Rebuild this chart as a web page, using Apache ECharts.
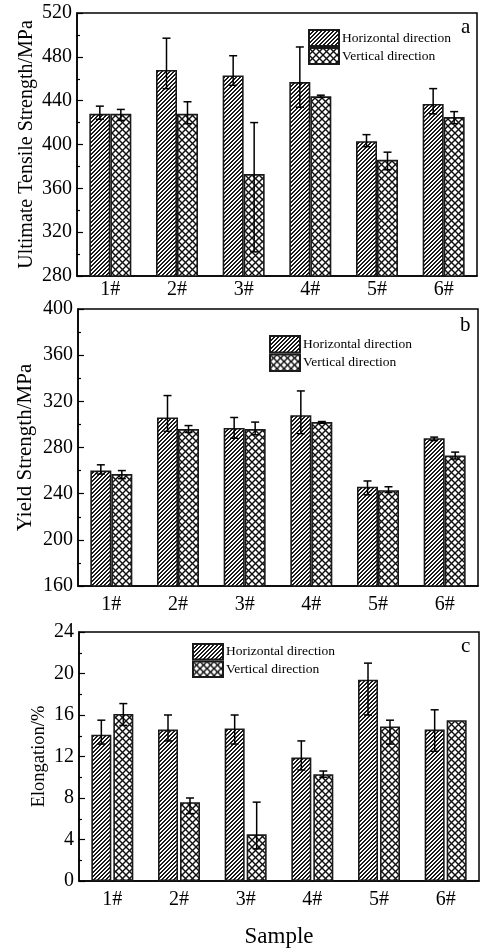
<!DOCTYPE html>
<html>
<head>
<meta charset="utf-8">
<title>Tensile properties</title>
<script src="https://cdn.jsdelivr.net/npm/echarts@6/dist/echarts.min.js"></script>
<style>
  html, body { margin: 0; padding: 0; background: #fff; }
  #main { width: 481px; height: 949px; }
</style>
</head>
<body>
<div id="main"></div>
<script>
  // 样品编号
  var samples = ['1#', '2#', '3#', '4#', '5#', '6#'];
  var seriesNames = ['Horizontal direction', 'Vertical direction'];

  // a: Ultimate Tensile Strength/MPa  (bar value, error bar low / high)
  var utsH     = [428, 468, 463, 457, 403, 437];
  var utsHLow  = [423, 451, 454, 434, 398, 428];
  var utsHHigh = [435, 497, 481, 489, 409, 451];
  var utsV     = [428, 428, 373, 444, 386, 425];
  var utsVLow  = [422, 419, 302, 443, 377, 419];
  var utsVHigh = [432, 439, 420, 445, 393, 430];

  // b: Yield Strength/MPa
  var ysH     = [260, 306, 297, 308, 246, 288];
  var ysHLow  = [257, 294, 288, 292, 239, 286];
  var ysHHigh = [265, 325, 306, 329, 251, 289];
  var ysV     = [257, 296, 296, 302, 243, 273];
  var ysVLow  = [253, 293, 291, 301, 241, 270];
  var ysVHigh = [260, 299, 302, 302.5, 246, 276];

  // c: Elongation/%   (6# vertical has no error bar)
  var elH     = [14.1, 14.6, 14.7, 11.9, 19.4, 14.6];
  var elHLow  = [13.2, 13.5, 13.2, 10.7, 16.0, 12.5];
  var elHHigh = [15.5, 16.0, 16.0, 13.5, 21.0, 16.5];
  var elV     = [16.1, 7.6, 4.5, 10.3, 14.9, 15.5];
  var elVLow  = [15.0, 6.5, 3.1, 10.0, 13.2, null];
  var elVHigh = [17.1, 8.0, 7.6, 10.6, 15.5, null];

  var font = 'Liberation Serif';

  // 斜线填充
  function hatchCanvas() {
    var n = 4, c = document.createElement('canvas');
    c.width = n; c.height = n;
    var ctx = c.getContext('2d');
    ctx.fillStyle = '#fff';
    ctx.fillRect(0, 0, n, n);
    ctx.fillStyle = '#1a1a1a';
    for (var x = 0; x < n; x++) {
      for (var y = 0; y < n; y++) {
        if ((x + y) % n < 2) ctx.fillRect(x, y, 1, 1);
      }
    }
    return c;
  }

  // 网格填充
  function crossCanvas() {
    var n = 7, c = document.createElement('canvas');
    c.width = n; c.height = n;
    var ctx = c.getContext('2d');
    ctx.fillStyle = '#fff';
    ctx.fillRect(0, 0, n, n);
    ctx.strokeStyle = '#111';
    ctx.lineWidth = 1.4;
    for (var k = -1; k <= 1; k++) {
      ctx.beginPath(); ctx.moveTo(k * n, 0); ctx.lineTo(k * n + n, n); ctx.stroke();
      ctx.beginPath(); ctx.moveTo(k * n, n); ctx.lineTo(k * n + n, 0); ctx.stroke();
    }
    return c;
  }

  var hatchFill = { image: hatchCanvas(), repeat: 'repeat' };
  var crossFill = { image: crossCanvas(), repeat: 'repeat' };

  function errorItem(shift) {
    return function (params, api) {
      if (isNaN(api.value(1))) return null;
      var i = api.value(0);
      var lo = api.coord([i, api.value(1)]);
      var hi = api.coord([i, api.value(2)]);
      var x = lo[0] + shift, cap = 4;
      var st = { stroke: '#000', lineWidth: 1.5 };
      return {
        type: 'group',
        children: [
          { type: 'line', shape: { x1: x, y1: lo[1], x2: x, y2: hi[1] }, style: st },
          { type: 'line', shape: { x1: x - cap, y1: hi[1], x2: x + cap, y2: hi[1] }, style: st },
          { type: 'line', shape: { x1: x - cap, y1: lo[1], x2: x + cap, y2: lo[1] }, style: st }
        ]
      };
    };
  }

  function pairs(lo, hi) {
    return samples.map(function (s, i) { return [i, lo[i], hi[i]]; });
  }

  function panelSeries(idx, h, hLo, hHi, v, vLo, vHi, barW, gap) {
    var off = barW / 2 + gap / 2;
    var base = { xAxisIndex: idx, yAxisIndex: idx, animation: false };
    return [
      Object.assign({
        name: seriesNames[0], type: 'bar', data: h, barWidth: barW, barGap: (gap / barW * 100) + '%',
        itemStyle: { color: hatchFill, borderColor: '#1a1a1a', borderWidth: 1.6 }
      }, base),
      Object.assign({
        name: seriesNames[1], type: 'bar', data: v, barWidth: barW,
        itemStyle: { color: crossFill, borderColor: '#1a1a1a', borderWidth: 1.6 }
      }, base),
      Object.assign({
        type: 'custom', renderItem: errorItem(-off), data: pairs(hLo, hHi), z: 5,
        encode: { x: 0, y: [1, 2] }
      }, base),
      Object.assign({
        type: 'custom', renderItem: errorItem(off), data: pairs(vLo, vHi), z: 5,
        encode: { x: 0, y: [1, 2] }
      }, base)
    ];
  }

  function xAxisOf(idx, margin, name) {
    return {
      type: 'category', gridIndex: idx, data: samples,
      axisLine: { lineStyle: { color: '#000', width: 1.5 } },
      axisTick: { inside: true, length: 5, lineStyle: { color: '#000', width: 1.2 } },
      axisLabel: { color: '#000', fontFamily: font, fontSize: 20, margin: margin },
      name: name || '', nameLocation: 'middle', nameGap: 44,
      nameTextStyle: { color: '#000', fontFamily: font, fontSize: 23 },
      splitLine: { show: false }
    };
  }

  function yAxisOf(idx, min, max, step, name, gap, nameSize) {
    return {
      type: 'value', gridIndex: idx, min: min, max: max, interval: step,
      axisLine: { show: true, lineStyle: { color: '#000', width: 1.5 } },
      axisTick: { show: true, inside: true, length: 6, lineStyle: { color: '#000', width: 1.2 } },
      minorTick: { show: true, splitNumber: 2, length: 3, lineStyle: { color: '#000', width: 1.2 } },
      axisLabel: { color: '#000', fontFamily: font, fontSize: 20, margin: 5 },
      splitLine: { show: false },
      name: name, nameLocation: 'middle', nameGap: gap, nameMoveOverlap: false,
      nameTextStyle: { color: '#000', fontFamily: font, fontSize: nameSize }
    };
  }

  function legendOf(left, top, h) {
    return {
      data: seriesNames, orient: 'vertical', left: left, top: top,
      itemWidth: 30, itemHeight: h, itemGap: 0, padding: 0,
      selectedMode: false, icon: 'rect',
      textStyle: { color: '#000', fontFamily: font, fontSize: 13.5, padding: [0, 0, 0, -2] }
    };
  }

  var gridBox = { show: true, borderColor: '#000', borderWidth: 1.5 };

  var chart = echarts.init(document.getElementById('main'));
  chart.setOption({
    backgroundColor: '#fff',
    animation: false,
    grid: [
      Object.assign({ left: 77, right: 4, top: 13, height: 263 }, gridBox),
      Object.assign({ left: 78, right: 3, top: 309, height: 277 }, gridBox),
      Object.assign({ left: 79, right: 2, top: 632, height: 252 }, gridBox)
    ],
    xAxis: [xAxisOf(0, 4), xAxisOf(1, 9), xAxisOf(2, 9, 'Sample')],
    yAxis: [
      yAxisOf(0, 280, 520, 40, 'Ultimate Tensile Strength/MPa', 40, 20),
      yAxisOf(1, 160, 400, 40, 'Yield Strength/MPa', 42, 21),
      yAxisOf(2, 0, 24, 4, 'Elongation/%', 30, 18.5)
    ],
    legend: [legendOf(308, 29, 16), legendOf(269, 335, 16.5), legendOf(192, 643, 15.5)],
    graphic: [
      { type: 'text', left: 461, top: 17, style: { text: 'a', fill: '#000', font: '21px ' + font } },
      { type: 'text', left: 460, top: 315, style: { text: 'b', fill: '#000', font: '21px ' + font } },
      { type: 'text', left: 461, top: 636, style: { text: 'c', fill: '#000', font: '21px ' + font } }
    ],
    series: [].concat(
      panelSeries(0, utsH, utsHLow, utsHHigh, utsV, utsVLow, utsVHigh, 21, 0),
      panelSeries(1, ysH, ysHLow, ysHHigh, ysV, ysVLow, ysVHigh, 21, 0),
      panelSeries(2, elH, elHLow, elHHigh, elV, elVLow, elVHigh, 20, 2)
    )
  });

  window.addEventListener('resize', function () {
    chart.resize();
  });
</script>
</body>
</html>
